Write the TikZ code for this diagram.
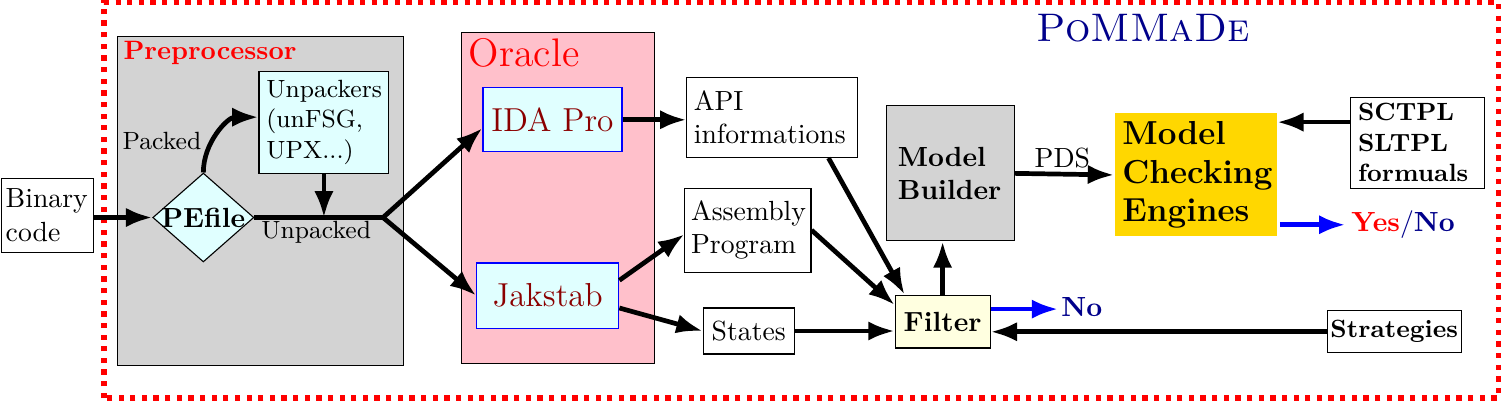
\documentclass[tikz,border=0pt]{standalone}
\usetikzlibrary{arrows.meta,shapes.geometric}
\definecolor{boxgray}{HTML}{D3D3D3}
\definecolor{oraclepink}{HTML}{FFC0CB}
\definecolor{toolcyan}{HTML}{E0FFFF}
\definecolor{filteryellow}{HTML}{FFFFE0}
\definecolor{enginegold}{HTML}{FFD700}
\definecolor{tooltext}{HTML}{8B0000}
\definecolor{darkblue}{HTML}{00008B}
\begin{document}
\begin{tikzpicture}[
    box/.style={draw,line width=0.4pt,inner ysep=0pt,align=left},
    tool/.style={draw=blue,line width=0.4pt,fill=toolcyan,text=tooltext,font=\large,inner sep=0pt},
    tag/.style={inner sep=0pt},
    flow/.style={line width=1.7pt,-{Latex[length=9.5pt,width=7pt]}},
    verdict/.style={flow,blue},
  ]
  \useasboundingbox (0,0) rectangle (19.07,5.09);
  \draw[red,line width=2pt,dash pattern=on 1.9pt off 2.3pt] (1.32,0.04) rectangle (19.01,5.06);

  \node[box,fill=boxgray,minimum width=3.63cm,minimum height=4.17cm] (pre) at (3.31,2.54) {};
  \node[tag,anchor=base west,text=red,font=\fontsize{9.6pt}{11pt}\selectfont\bfseries] (pretitle) at (1.56,4.34) {Preprocessor};
  \node[box,fill=oraclepink,minimum width=2.45cm,minimum height=4.2cm] (ora) at (7.08,2.58) {};
  \node[tag,anchor=base west,text=red,font=\Large] (oratitle) at (5.94,4.25) {Oracle};
  \node[tag,anchor=base,text=darkblue,font=\Large] (title) at (14.50,4.56) {\textsc{PoMMaDe}};

  \node[box,inner xsep=1.6pt,text width=30pt,minimum height=26.7pt] (bin) at (0.60,2.36) {Binary\\code};
  \node[diamond,draw,line width=0.4pt,fill=toolcyan,inner sep=0pt,minimum width=36.5pt,minimum height=32.1pt,font=\bfseries] (pe) at (2.58,2.33) {\makebox[0pt]{PEfile}};
  \node[box,fill=toolcyan,font=\small,inner xsep=2.7pt,text width=41.5pt,minimum height=36.8pt] (unp) at (4.11,3.54) {Unpackers\\(unFSG,\\UPX...)};
  \node[tool,minimum width=50.2pt,minimum height=23.1pt] (ida) at (7.01,3.57) {IDA Pro};
  \node[tool,minimum width=51.3pt,minimum height=23.5pt] (jak) at (6.95,1.34) {Jakstab};
  \node[box,inner xsep=2.5pt,text width=56.7pt,minimum height=28.9pt] (api) at (9.80,3.60) {API\\informations};
  \node[box,inner xsep=2.2pt,text width=41.1pt,minimum height=30.3pt] (asm) at (9.49,2.17) {Assembly\\Program};
  \node[box,inner sep=0pt,minimum width=32.9pt,minimum height=16.6pt] (sts) at (9.50,0.89) {States};
  \node[box,fill=boxgray,font=\bfseries,inner xsep=4.1pt,text width=38pt,minimum height=48.7pt] (mb) at (12.06,2.89) {Model\\Builder};
  \node[box,fill=filteryellow,font=\bfseries,inner sep=0pt,minimum width=34.3pt,minimum height=19.1pt] (flt) at (11.96,1.01) {Filter};
  \node[box,draw=none,fill=enginegold,font=\large\bfseries,inner xsep=2.8pt,text width=52.9pt,minimum height=44.4pt] (mc) at (15.17,2.87) {Model\\Checking\\Engines};
  \node[box,font=\small\bfseries,inner xsep=2.9pt,text width=42.6pt,minimum height=32.9pt] (ltl) at (17.98,3.28) {SCTPL\\SLTPL\\formuals};
  \node[box,font=\small\bfseries,inner sep=0pt,minimum width=48.4pt,minimum height=15.2pt] (str) at (17.69,0.88) {Strategies};

  \node[tag,anchor=base east,font=\small] (packed) at (2.56,3.19) {Packed};
  \node[tag,anchor=base west,font=\small] (unpacked) at (3.31,2.07) {Unpacked};
  \node[tag,anchor=base] (pds) at (13.48,2.96) {PDS};
  \node[tag,anchor=base west] (yn) at (17.14,2.15) {\textcolor{red}{\bfseries Yes}\textcolor{darkblue}{/\bfseries No}};
  \node[tag,anchor=base west,font=\bfseries,text=darkblue] (no) at (13.46,1.08) {No};

  \coordinate (split) at (4.86,2.33);
  \coordinate (ltlin) at ([yshift=7.4pt]ltl.west);
  \coordinate (fltout) at ([yshift=4.5pt]flt.east);

  \draw[flow] (bin.east |- pe.west) -- (pe.west);
  \draw[flow] (pe.north) to[out=90,in=180] ([yshift=1.8pt]unp.west);
  \draw[flow] (unp.south) -- (unp.south |- pe.east);
  \draw[line width=1.7pt] (pe.east) -- (split);
  \draw[flow] (split) -- ([yshift=-3pt]ida.west);
  \draw[flow] (split) -- (jak.west);
  \draw[flow] (ida.east) -- (ida.east -| api.west);
  \draw[flow] ([yshift=5.5pt]jak.east) -- ([yshift=-1.5pt]asm.west);
  \draw[flow] ([yshift=-4.5pt]jak.east) -- (sts.west);
  \draw[flow] ([xshift=-10.8pt]api.south east) -- ([xshift=3.6pt]flt.north west);
  \draw[flow] (asm.east) -- ([yshift=6pt]flt.west);
  \draw[flow] (sts.east) -- (sts.east -| flt.west);
  \draw[flow] (flt.north) -- (flt.north |- mb.south);
  \draw[flow] (mb.east) -- (mc.west);
  \draw[flow] (ltlin) -- (ltlin -| mc.east);
  \draw[flow] (str.west) -- (str.west -| flt.east);
  \draw[verdict] ([xshift=1pt]mc.east |- yn.west) -- ([xshift=-2pt]yn.west);
  \draw[verdict] (fltout) -- ([xshift=-1pt]fltout -| no.west);
\end{tikzpicture}
\end{document}
